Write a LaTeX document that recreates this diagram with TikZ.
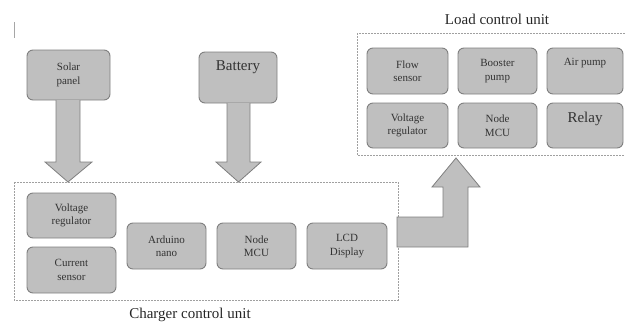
\documentclass[tikz,border=0pt]{standalone}
\usepackage{fontspec}
\setmainfont{Liberation Serif}
\definecolor{boxfill}{HTML}{BFBFBF}
\definecolor{boxline}{HTML}{7F7F7F}
\definecolor{grp}{HTML}{A0A0A0}
\tikzset{
  blk/.style={draw=boxline, fill=boxfill, line width=0.9pt, rounded corners=6pt, align=center, inner sep=0pt, font=\fontsize{11}{13.5}\selectfont, text=black!80},
  bigtxt/.style={font=\fontsize{15}{17}\selectfont},
  grpbox/.style={draw=grp, line width=0.6pt, dash pattern=on 2pt off 1pt},
  bigarrow/.style={draw=boxline, fill=boxfill, line width=0.8pt, line join=miter},
  lbl/.style={font=\fontsize{15}{17}\selectfont, text=black!85}
}
\begin{document}
\begin{tikzpicture}[x=1pt,y=-1pt]
\useasboundingbox (0,0) rectangle (625,324);
% stray mark
\draw[gray!70, line width=0.8pt] (14,22) -- (14,38);
% group frames
\draw[grpbox] (14,182) rectangle (398,300);
\draw[grpbox] (357,33) rectangle (627,155);
\node[lbl] (ccu) at (190,315) {Charger control unit};
\node[lbl] (lcu) at (497,19) {Load control unit};
% sources
\node[blk, minimum width=83pt, minimum height=50pt] (solar) at (68.5,75) {Solar\\panel};
\node[blk, bigtxt, minimum width=78pt, minimum height=51pt] (battery) at (238,77.5) {Battery\\[6pt]};
% charger blocks
\node[blk, minimum width=89pt, minimum height=45pt] (vreg) at (71.5,215.5) {Voltage\\regulator};
\node[blk, minimum width=89pt, minimum height=46pt] (cur) at (71.5,270) {Current\\sensor};
\node[blk, minimum width=79pt, minimum height=46pt] (ard) at (166.5,246) {Arduino\\nano};
\node[blk, minimum width=79pt, minimum height=46pt] (mcu) at (256.5,246) {Node\\MCU};
\node[blk, minimum width=80pt, minimum height=46pt] (lcd) at (347,246) {LCD\\Display};
% load blocks
\node[blk, minimum width=81pt, minimum height=46pt] (flow) at (407.5,71) {Flow\\sensor};
\node[blk, minimum width=79pt, minimum height=46pt] (boost) at (497.5,71) {Booster\\pump};
\node[blk, minimum width=76pt, minimum height=46pt] (air) at (585,71) {Air pump\\[4pt]};
\node[blk, minimum width=81pt, minimum height=45pt] (lvreg) at (407.5,125.5) {Voltage\\regulator};
\node[blk, minimum width=79pt, minimum height=45pt] (lmcu) at (497.5,125.5) {Node\\MCU};
\node[blk, bigtxt, minimum width=76pt, minimum height=45pt] (relay) at (585,125.5) {Relay\\[0pt]};
% block arrows
\draw[bigarrow] (56,100) -- (56,162) -- (45,162) -- (68,182) -- (92,162) -- (80,162) -- (80,100);
\draw[bigarrow] (227,103) -- (227,162) -- (216,162) -- (238.5,182) -- (261,162) -- (250,162) -- (250,103);
\draw[bigarrow] (397,217) -- (443,217) -- (443,187) -- (432,187) -- (456,158) -- (480,187) -- (468,187) -- (468,247) -- (397,247) -- cycle;
\end{tikzpicture}
\end{document}
